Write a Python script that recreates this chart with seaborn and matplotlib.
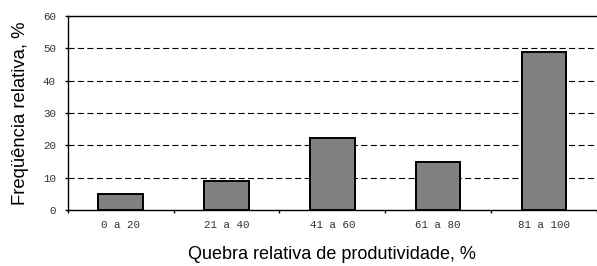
import numpy as np
import pandas as pd
import seaborn as sns
import matplotlib.pyplot as plt

# Data
categorias = ["0 a 20", "21 a 40", "41 a 60", "61 a 80", "81 a 100"]
frequencia = [5.0, 9.1, 22.3, 14.7, 49.0]

df = pd.DataFrame({"quebra": categorias, "freq": frequencia})

sns.set_theme(style="white")
plt.rcParams["font.family"] = ["Liberation Sans", "DejaVu Sans"]

fig = plt.figure(figsize=(5.97, 2.66), dpi=100)
ax = fig.add_axes([0.1134, 0.2105, 0.8866, 0.7295])

sns.barplot(data=df, x="quebra", y="freq", color="#808080", saturation=1,
            edgecolor="black", linewidth=1.4, width=0.42, ax=ax, zorder=3)

ax.set_ylim(0, 60)
ax.set_xlim(-0.5, 4.5)
ax.set_yticks(np.arange(0, 61, 10))
ax.yaxis.grid(True, color="black", linestyle=(0, (5.5, 3)), linewidth=0.8, zorder=0)
ax.xaxis.grid(False)

# category separators as minor ticks
ax.set_xticks(np.arange(-0.5, 4.6, 1), minor=True)
ax.tick_params(axis="x", which="major", length=0, pad=7)
ax.tick_params(axis="x", which="minor", length=2.5, width=1, color="black", direction="out", bottom=True)
ax.tick_params(axis="y", length=2.5, width=1, color="black", direction="out", left=True, pad=6)

for lab in ax.get_xticklabels() + ax.get_yticklabels():
    lab.set_fontfamily("Liberation Mono")
    lab.set_fontsize(7.8)
    lab.set_color("#333333")

for s in ["left", "bottom", "top"]:
    ax.spines[s].set_color("black")
    ax.spines[s].set_linewidth(1)
ax.spines["right"].set_visible(False)

ax.set_xlabel("Quebra relativa de produtividade, %", fontsize=13, labelpad=12, color="black")
ax.set_ylabel("Freqüência relativa, %", fontsize=13.3, labelpad=10, color="black")

fig.savefig("out.png", dpi=100)
